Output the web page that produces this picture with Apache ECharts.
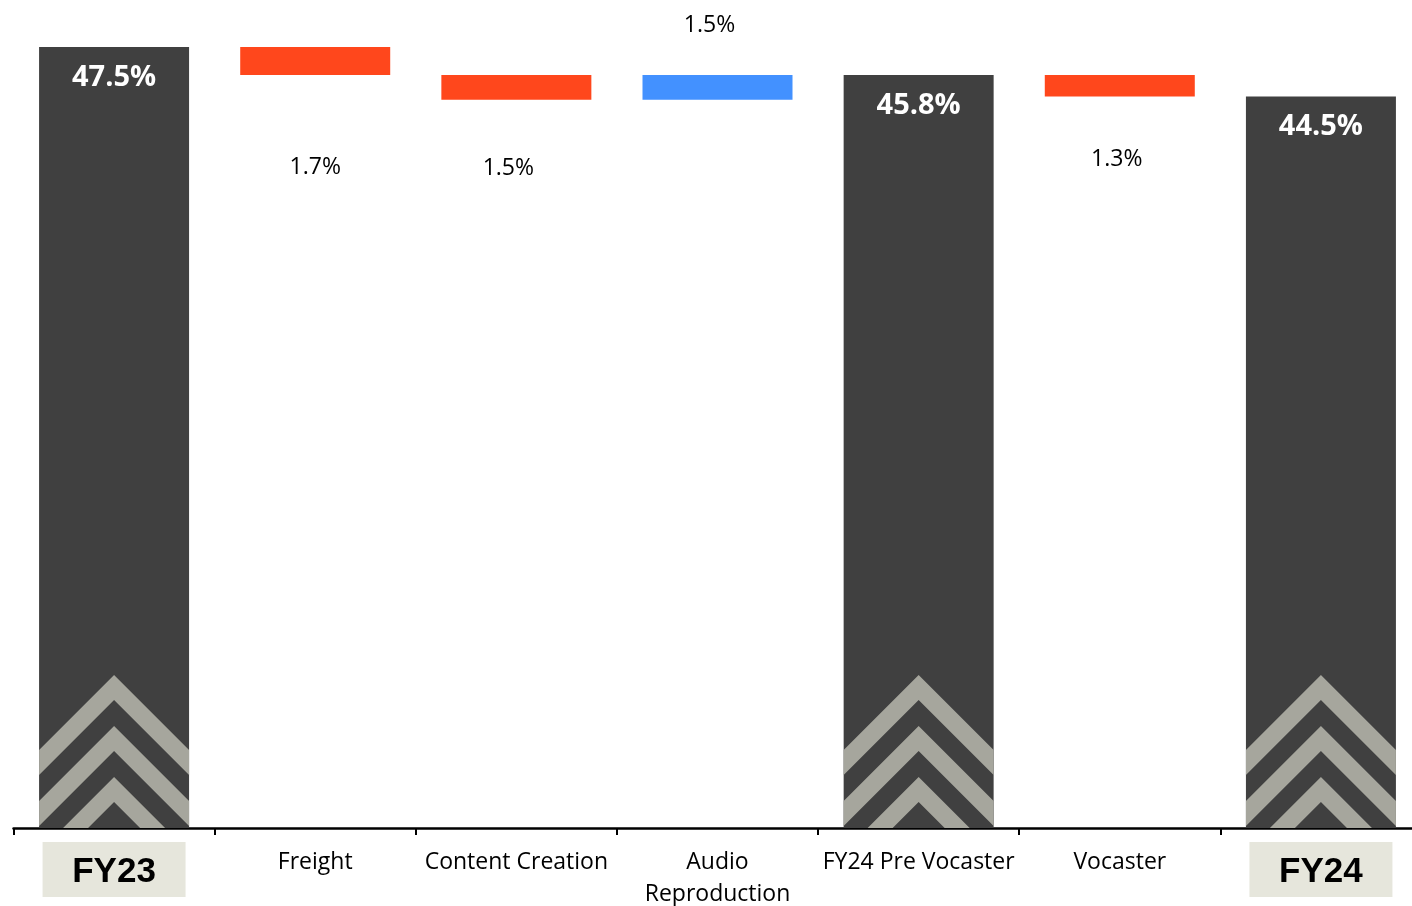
<!DOCTYPE html>
<html>
<head>
<meta charset="utf-8">
<title>Gross margin bridge FY23 to FY24</title>
<script src="https://cdn.jsdelivr.net/npm/echarts@6/dist/echarts.min.js"></script>
<style>
  html, body { margin: 0; padding: 0; background: #ffffff; }
  #chart { width: 1412px; height: 906px; }
</style>
</head>
<body>
<div id="chart"></div>
<script>
// Bridge steps, left to right
const categories = ['FY23', 'Freight', 'Content Creation', 'Audio\nReproduction', 'FY24 Pre Vocaster', 'Vocaster', 'FY24'];
// Gross margin (%) for totals, change in points for the steps in between
const values = [47.5, -1.7, -1.5, 1.5, 45.8, -1.3, 44.5];
// 'total' bars stand on zero, 'delta' bars float on the running level
const kinds = ['total', 'delta', 'delta', 'delta', 'total', 'delta', 'total'];
// year-end categories get a boxed axis label
const yearEnds = ['FY23', 'FY24'];

// ---- styling ----
const DARK = '#404040';
const DOWN = '#FF471C';
const UP = '#4391FF';
const CHEVRON = '#A6A69D';
const LABEL_BOX = '#E6E6DC';
const BAR_W = 150;
const FONT = '"Open Sans", "Noto Sans", sans-serif';
// per-step placement of the delta labels: [dx, distance from bar]
const deltaLabelPlace = { 1: [0, 81], 2: [-8, 57], 3: [-8, 38], 5: [-3, 52] };

// ---- waterfall layout ----
const baseData = [];
const barData = [];
let level = 0;
values.forEach((v, i) => {
  if (kinds[i] === 'total') {
    level = v;
    baseData.push(0);
    barData.push({
      value: v,
      itemStyle: { color: DARK },
      label: {
        show: true, position: 'insideTop', distance: 16,
        formatter: v.toFixed(1) + '%',
        color: '#ffffff', fontFamily: FONT, fontWeight: 'bold', fontSize: 29
      }
    });
  } else {
    const start = level;
    level = level + v;
    baseData.push(Math.min(start, level));
    const place = deltaLabelPlace[i] || [0, 40];
    barData.push({
      value: Math.abs(v),
      itemStyle: { color: v < 0 ? DOWN : UP },
      label: {
        show: true, position: v < 0 ? 'bottom' : 'top',
        distance: place[1], offset: [place[0], 0],
        formatter: Math.abs(v).toFixed(1) + '%',
        color: '#000000', fontFamily: FONT, fontSize: 23
      }
    });
  }
});

const totalIdx = [];
kinds.forEach((k, i) => { if (k === 'total') totalIdx.push([i, values[i]]); });

// clip a polygon to the half-plane y <= yMax
function clipBelow(pts, yMax) {
  const out = [];
  for (let i = 0; i < pts.length; i++) {
    const a = pts[i], b = pts[(i + 1) % pts.length];
    const aIn = a[1] <= yMax, bIn = b[1] <= yMax;
    if (aIn) out.push(a);
    if (aIn !== bIn) {
      const t = (yMax - a[1]) / (b[1] - a[1]);
      out.push([a[0] + t * (b[0] - a[0]), yMax]);
    }
  }
  return out;
}

// three stacked chevrons at the foot of each total bar
function renderChevrons(params, api) {
  const p = api.coord([api.value(0), 0]);
  const cx = p[0], by = p[1], hw = BAR_W / 2;
  const children = [];
  for (let k = 0; k < 3; k++) {
    const yo = by - 153 + 51 * k;
    const yi = yo + 25;
    const poly = clipBelow([
      [cx - hw, yo + hw], [cx, yo], [cx + hw, yo + hw],
      [cx + hw, yi + hw], [cx, yi], [cx - hw, yi + hw]
    ], by);
    children.push({ type: 'polygon', shape: { points: poly }, style: { fill: CHEVRON } });
  }
  return { type: 'group', children: children };
}

const chart = echarts.init(document.getElementById('chart'), null, { renderer: 'canvas' });
chart.setOption({
  animation: false,
  backgroundColor: '#ffffff',
  grid: {
    left: 13.5, width: 1408, top: 6, bottom: 78,
    containLabel: false, outerBoundsMode: 'none'
  },
  xAxis: {
    type: 'category',
    data: categories,
    axisLine: { show: true, lineStyle: { color: '#000000', width: 2.5 } },
    axisTick: { show: true, length: 7, lineStyle: { color: '#000000', width: 2 } },
    axisLabel: {
      interval: 0, margin: 14, hideOverlap: false,
      formatter: function (val) {
        if (yearEnds.indexOf(val) >= 0) return '{hl|' + val + '}';
        return val.split('\n').map(s => '{n|' + s + '}').join('\n');
      },
      rich: {
        hl: {
          backgroundColor: LABEL_BOX, width: 143, height: 49, align: 'center',
          padding: [6, 0, 0, 0],
          fontFamily: '"Liberation Sans", Arial, sans-serif', fontWeight: 'bold',
          fontSize: 35, color: '#000000'
        },
        n: {
          fontFamily: FONT, fontSize: 23, lineHeight: 32, color: '#000000',
          padding: [8, 0, 0, 0]
        }
      }
    }
  },
  yAxis: { type: 'value', min: 0, max: 50, show: false },
  series: [
    {
      name: 'base', type: 'bar', stack: 'bridge', barWidth: BAR_W,
      itemStyle: { color: 'transparent' }, silent: true,
      data: baseData
    },
    {
      name: 'step', type: 'bar', stack: 'bridge', barWidth: BAR_W,
      data: barData
    },
    {
      name: 'chevrons', type: 'custom', z: 3, silent: true,
      renderItem: renderChevrons,
      encode: { x: 0, y: 1 },
      data: totalIdx
    }
  ]
});
</script>
</body>
</html>
